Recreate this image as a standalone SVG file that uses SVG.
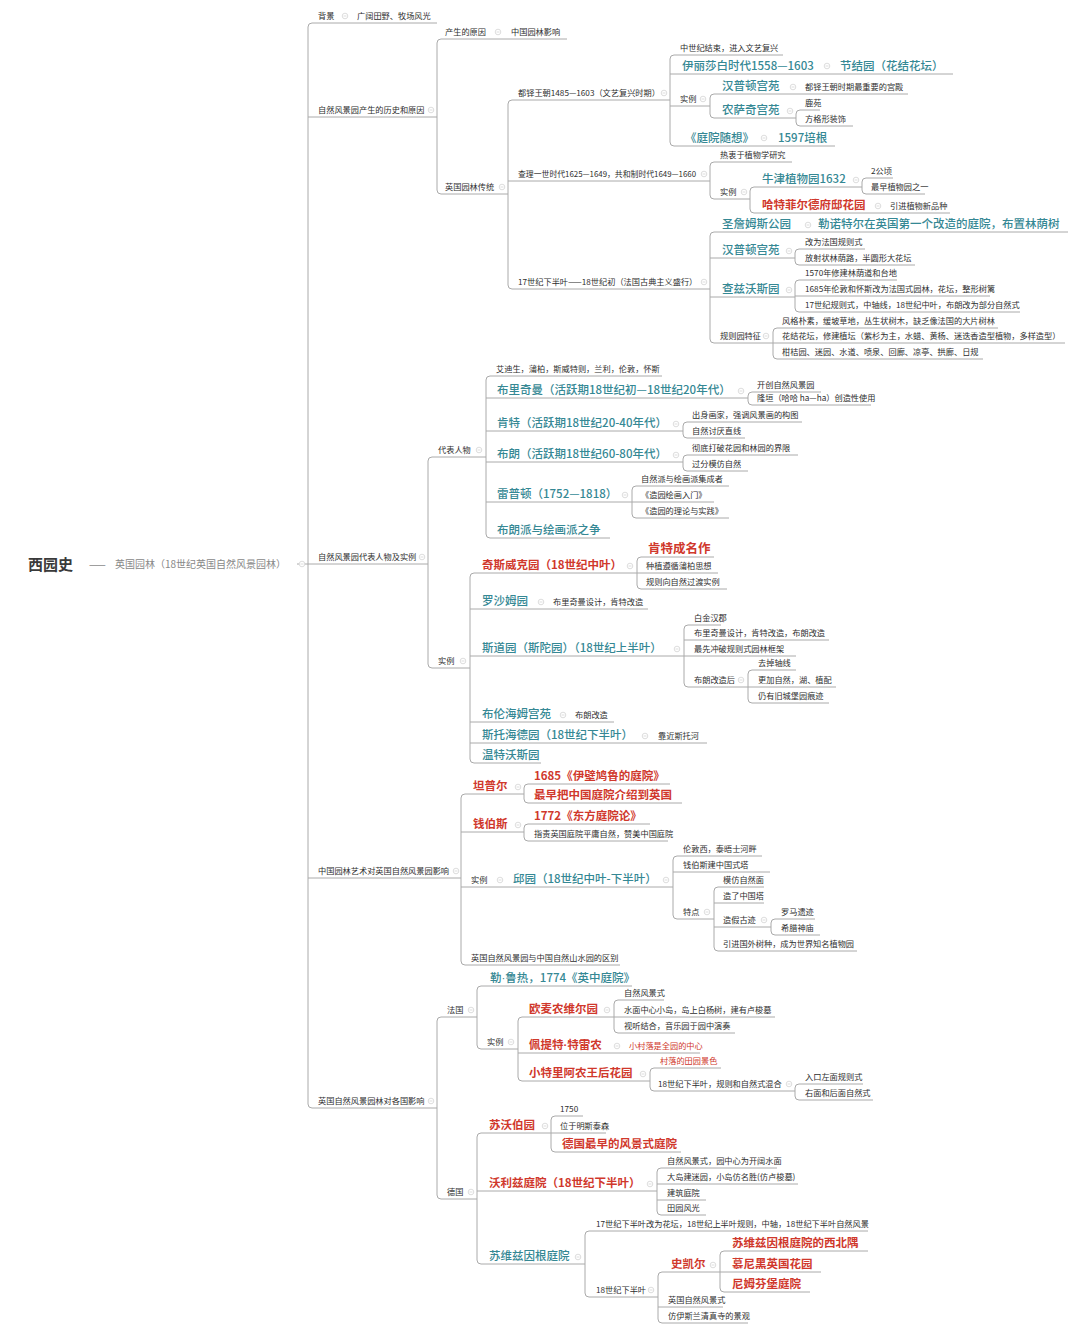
<svg xmlns="http://www.w3.org/2000/svg" xmlns:xlink="http://www.w3.org/1999/xlink" width="1080" height="1332" viewBox="0 0 1080 1332">
<style>
text{font-family:"Noto Sans CJK SC","Liberation Sans",sans-serif}
.s{font-size:8.2px;fill:#2e2e2e}
.t{font-size:11.5px;fill:#358894;font-weight:500}
.r{font-size:11.5px;fill:#d0382c;font-weight:bold}
.rs{font-size:8.2px;fill:#d0382c}
.d{font-family:"Liberation Sans",sans-serif}
.c path{fill:none;stroke:#aaa;stroke-width:1}
</style>
<defs>
<g id="ic"><circle r="2.8" fill="#fff" stroke="#d4d4d4" stroke-width="0.8"/><path d="M-1.5 0H1.5" stroke="#d4d4d4" stroke-width="0.8"/></g>
</defs>
<rect width="1080" height="1332" fill="#fff"/>
<g class="c" id="connectors">
<path d="M437 23H312Q308 23 308 27V1104Q308 1108 312 1108H437M308 117H437M308 564H428M308 878H461M297 564H308"/>
<path d="M567 39H441Q437 39 437 43V190Q437 194 441 194H508"/>
<path d="M670 100H512Q508 100 508 104V285Q508 289 512 289H710M508 181H710"/>
<path d="M783 55H674Q670 55 670 59V142Q670 146 674 146H835M670 74H953M670 106H710"/>
<path d="M908 94H714Q710 94 710 98V114Q710 118 714 118H796"/>
<path d="M820 110H800Q796 110 796 114V122Q796 126 800 126H853"/>
<path d="M792 162H714Q710 162 710 166V195Q710 199 714 199H750"/>
<path d="M862 187H754Q750 187 750 191V209Q750 213 754 213H950"/>
<path d="M893 178H866Q862 178 862 182V190Q862 194 866 194H925"/>
<path d="M1068 232H714Q710 232 710 236V339Q710 343 714 343H773M710 258H795M710 297H795"/>
<path d="M865 249H799Q795 249 795 253V261Q795 265 799 265H915"/>
<path d="M897 280H799Q795 280 795 284V308Q795 312 799 312H1020M795 296H990"/>
<path d="M998 328H777Q773 328 773 332V355Q773 359 777 359H983M773 343H1065"/>
<path d="M486 457H432Q428 457 428 461V664Q428 668 432 668H470"/>
<path d="M662 376H490Q486 376 486 380V534Q486 538 490 538H610M486 398H748M486 431H683M486 462H683M486 502H632"/>
<path d="M821 392H752Q748 392 748 396V401Q748 405 752 405H871"/>
<path d="M802 422H687Q683 422 683 426V434Q683 438 687 438H745"/>
<path d="M798 455H687Q683 455 683 459V467Q683 471 687 471H748"/>
<path d="M729 486H636Q632 486 632 490V514Q632 518 636 518H729M632 502H714"/>
<path d="M637 573H474Q470 573 470 577V759Q470 763 474 763H541M470 609H648M470 656H684M470 722H614M470 743H707"/>
<path d="M714 557H641Q637 557 637 561V585Q637 589 641 589H727M637 573H718"/>
<path d="M721 625H688Q684 625 684 629V683Q684 687 688 687H748M684 640H829M684 656H796"/>
<path d="M796 670H752Q748 670 748 674V699Q748 703 752 703H829M748 687H836"/>
<path d="M524 794H465Q461 794 461 798V961Q461 965 465 965H620M461 832H524M461 887H673"/>
<path d="M670 784H528Q524 784 524 788V799Q524 803 528 803H682"/>
<path d="M650 824H528Q524 824 524 828V837Q524 841 528 841H668"/>
<path d="M762 856H677Q673 856 673 860V915Q673 919 677 919H714M673 872H770"/>
<path d="M764 887H718Q714 887 714 891V947Q714 951 718 951H857M714 903H764M714 927H771"/>
<path d="M815 919H775Q771 919 771 923V931Q771 935 775 935H820"/>
<path d="M477 1017H441Q437 1017 437 1021V1195Q437 1199 441 1199H477"/>
<path d="M632 986H481Q477 986 477 990V1045Q477 1049 481 1049H518"/>
<path d="M614 1017H522Q518 1017 518 1021V1077Q518 1081 522 1081H650M518 1053H700"/>
<path d="M664 1000H618Q614 1000 614 1004V1029Q614 1033 618 1033H735M614 1017H775"/>
<path d="M721 1068H654Q650 1068 650 1072V1087Q650 1091 654 1091H795"/>
<path d="M863 1084H799Q795 1084 795 1088V1096Q795 1100 799 1100H873"/>
<path d="M551 1133H481Q477 1133 477 1137V1260Q477 1264 481 1264H585M477 1191H657"/>
<path d="M583 1116H555Q551 1116 551 1120V1148Q551 1152 555 1152H681M551 1133H606"/>
<path d="M777 1168H661Q657 1168 657 1172V1211Q657 1215 661 1215H706M657 1184H798M657 1200H706"/>
<path d="M868 1231H589Q585 1231 585 1235V1293Q585 1297 589 1297H658"/>
<path d="M720 1272H662Q658 1272 658 1276V1319Q658 1323 662 1323H748M658 1307H723"/>
<path d="M868 1251H724Q720 1251 720 1255V1288Q720 1292 724 1292H810M720 1272H821"/>
</g>
<g id="n0"><text x="28" y="570" style="font-size:15px;fill:#3a3a3a;font-weight:bold">西园史</text><text x="89" y="568" style="font-size:10px;fill:#888">——</text><text x="115" y="568" style="font-size:10px;fill:#888">英国园林（18世纪英国自然风景园林）</text><use href="#ic" x="302" y="564"/></g>
<g id="n1"><text class="s" x="318" y="18.5">背景</text><use href="#ic" x="345" y="16"/><text class="s" x="357" y="18.5">广阔田野、牧场风光</text></g>
<g id="n2"><text class="s" x="318" y="112.5">自然风景园产生的历史和原因</text><use href="#ic" x="431" y="110"/></g>
<g id="n3"><text class="s" x="318" y="559.5">自然风景园代表人物及实例</text><use href="#ic" x="422" y="557"/></g>
<g id="n4"><text class="s" x="318" y="873.5">中国园林艺术对英国自然风景园影响</text><use href="#ic" x="456" y="871"/></g>
<g id="n5"><text class="s" x="318" y="1103.5">英国自然风景园林对各国影响</text><use href="#ic" x="431" y="1101"/></g>
<g id="n6"><text class="s" x="445" y="34.5">产生的原因</text><use href="#ic" x="498" y="32"/><text class="s" x="511" y="34.5">中国园林影响</text></g>
<g id="n7"><text class="s" x="445" y="189.5">英国园林传统</text><use href="#ic" x="502" y="187"/></g>
<g id="n8"><text class="s" x="518" y="95.5">都铎王朝1485—1603（文艺复兴时期）</text><use href="#ic" x="664" y="93"/></g>
<g id="n9"><text class="s" x="518" y="176.5" textLength="178" lengthAdjust="spacingAndGlyphs">查理一世时代1625—1649，共和制时代1649—1660</text><use href="#ic" x="704" y="174"/></g>
<g id="n10"><text class="s" x="518" y="284.5">17世纪下半叶——18世纪初（法国古典主义盛行）</text><use href="#ic" x="704" y="282"/></g>
<g id="n11"><text class="s" x="680" y="50.5">中世纪结束，进入文艺复兴</text></g>
<g id="n12"><text class="t" x="682" y="70">伊丽莎白时代1558—1603</text><use href="#ic" x="827" y="66"/><text class="t" x="840" y="70">节结园（花结花坛）</text></g>
<g id="n13"><text class="s" x="680" y="101.5">实例</text><use href="#ic" x="703" y="99"/></g>
<g id="n14"><text class="t" x="685" y="142">《庭院随想》</text><use href="#ic" x="764" y="138"/><text class="t" x="778" y="142">1597培根</text></g>
<g id="n15"><text class="t" x="722" y="90">汉普顿宫苑</text><use href="#ic" x="793" y="87"/><text class="s" x="805" y="89.5">都铎王朝时期最重要的宫殿</text></g>
<g id="n16"><text class="t" x="722" y="114">农萨奇宫苑</text><use href="#ic" x="790" y="111"/></g>
<g id="n17"><text class="s" x="805" y="105.5">鹿苑</text></g>
<g id="n18"><text class="s" x="805" y="121.5">方格形装饰</text></g>
<g id="n19"><text class="s" x="720" y="157.5">热衷于植物学研究</text></g>
<g id="n20"><text class="s" x="720" y="194.5">实例</text><use href="#ic" x="744" y="192"/></g>
<g id="n21"><text class="t" x="762" y="183">牛津植物园1632</text><use href="#ic" x="856" y="180"/></g>
<g id="n22"><text class="r" x="762" y="209">哈特菲尔德府邸花园</text><use href="#ic" x="878" y="206"/><text class="s" x="890" y="208.5">引进植物新品种</text></g>
<g id="n23"><text class="s" x="871" y="173.5">2公顷</text></g>
<g id="n24"><text class="s" x="871" y="189.5">最早植物园之一</text></g>
<g id="n25"><text class="t" x="722" y="228">圣詹姆斯公园</text><use href="#ic" x="808" y="225"/><text class="t" x="818" y="228">勒诺特尔在英国第一个改造的庭院，布置林荫树</text></g>
<g id="n26"><text class="t" x="722" y="254">汉普顿宫苑</text><use href="#ic" x="789" y="251"/></g>
<g id="n27"><text class="t" x="722" y="293">查兹沃斯园</text><use href="#ic" x="789" y="290"/></g>
<g id="n28"><text class="s" x="720" y="338.5">规则园特征</text><use href="#ic" x="766" y="336"/></g>
<g id="n29"><text class="s" x="805" y="244.5">改为法国规则式</text></g>
<g id="n30"><text class="s" x="805" y="260.5">放射状林荫路，半圆形大花坛</text></g>
<g id="n31"><text class="s" x="805" y="275.5">1570年修建林荫道和台地</text></g>
<g id="n32"><text class="s" x="805" y="291.5">1685年伦敦和怀斯改为法国式园林，花坛，整形树篱</text></g>
<g id="n33"><text class="s" x="805" y="307.5">17世纪规则式，中轴线，18世纪中叶，布朗改为部分自然式</text></g>
<g id="n34"><text class="s" x="782" y="323.5">风格朴素，缓坡草地，丛生状树木，缺乏像法国的大片树林</text></g>
<g id="n35"><text class="s" x="782" y="338.5">花结花坛，修建植坛（紫杉为主，水蜡、黄杨、迷迭香造型植物，多样造型）</text></g>
<g id="n36"><text class="s" x="782" y="354.5">柑桔园、迷园、水道、喷泉、回廊、凉亭、拱廊、日规</text></g>
<g id="n37"><text class="s" x="438" y="452.5">代表人物</text><use href="#ic" x="479" y="450"/></g>
<g id="n38"><text class="s" x="438" y="663.5">实例</text><use href="#ic" x="463" y="661"/></g>
<g id="n39"><text class="s" x="496" y="371.5">艾迪生，蒲柏，斯威特则，兰利，伦敦，怀斯</text></g>
<g id="n40"><text class="t" x="497" y="394">布里奇曼（活跃期18世纪初—18世纪20年代）</text><use href="#ic" x="741" y="391"/></g>
<g id="n41"><text class="t" x="497" y="427">肯特（活跃期18世纪20-40年代）</text><use href="#ic" x="676" y="424"/></g>
<g id="n42"><text class="t" x="497" y="458">布朗（活跃期18世纪60-80年代）</text><use href="#ic" x="676" y="455"/></g>
<g id="n43"><text class="t" x="497" y="498">雷普顿（1752—1818）</text><use href="#ic" x="625" y="495"/></g>
<g id="n44"><text class="t" x="497" y="534">布朗派与绘画派之争</text></g>
<g id="n45"><text class="s" x="757" y="387.5">开创自然风景园</text></g>
<g id="n46"><text class="s" x="757" y="400.5">隆垣（哈哈 ha—ha）创造性使用</text></g>
<g id="n47"><text class="s" x="692" y="417.5">出身画家，强调风景画的构图</text></g>
<g id="n48"><text class="s" x="692" y="433.5">自然讨厌直线</text></g>
<g id="n49"><text class="s" x="692" y="450.5">彻底打破花园和林园的界限</text></g>
<g id="n50"><text class="s" x="692" y="466.5">过分模仿自然</text></g>
<g id="n51"><text class="s" x="641" y="481.5">自然派与绘画派集成者</text></g>
<g id="n52"><text class="s" x="641" y="497.5">《造园绘画入门》</text></g>
<g id="n53"><text class="s" x="641" y="513.5">《造园的理论与实践》</text></g>
<g id="n54"><text class="r" x="482" y="569">奇斯威克园（18世纪中叶）</text><use href="#ic" x="630" y="566"/></g>
<g id="n55"><text class="t" x="482" y="605">罗沙姆园</text><use href="#ic" x="541" y="602"/><text class="s" x="553" y="604.5">布里奇曼设计，肯特改造</text></g>
<g id="n56"><text class="t" x="482" y="652">斯道园（斯陀园）（18世纪上半叶）</text><use href="#ic" x="677" y="649"/></g>
<g id="n57"><text class="t" x="482" y="718">布伦海姆宫苑</text><use href="#ic" x="563" y="715"/><text class="s" x="575" y="717.5">布朗改造</text></g>
<g id="n58"><text class="t" x="482" y="739">斯托海德园（18世纪下半叶）</text><use href="#ic" x="645" y="736"/><text class="s" x="658" y="738.5">靠近斯托河</text></g>
<g id="n59"><text class="t" x="482" y="759">温特沃斯园</text></g>
<g id="n60"><text class="r" x="648" y="553" style="font-size:12.5px">肯特成名作</text></g>
<g id="n61"><text class="s" x="646" y="568.5">种植遵循蒲柏思想</text></g>
<g id="n62"><text class="s" x="646" y="584.5">规则向自然过渡实例</text></g>
<g id="n63"><text class="s" x="694" y="620.5">白金汉郡</text></g>
<g id="n64"><text class="s" x="694" y="635.5">布里奇曼设计，肯特改造，布朗改造</text></g>
<g id="n65"><text class="s" x="694" y="651.5">最先冲破规则式园林框架</text></g>
<g id="n66"><text class="s" x="694" y="682.5">布朗改造后</text><use href="#ic" x="741" y="680"/></g>
<g id="n67"><text class="s" x="758" y="665.5">去掉轴线</text></g>
<g id="n68"><text class="s" x="758" y="682.5">更加自然，湖、植配</text></g>
<g id="n69"><text class="s" x="758" y="698.5">仍有旧城堡园痕迹</text></g>
<g id="n70"><text class="r" x="473" y="790">坦普尔</text><use href="#ic" x="518" y="787"/></g>
<g id="n71"><text class="r" x="473" y="828">钱伯斯</text><use href="#ic" x="518" y="825"/></g>
<g id="n72"><text class="s" x="471" y="882.5">实例</text><use href="#ic" x="500" y="880"/><text class="t" x="513" y="883">邱园（18世纪中叶-下半叶）</text><use href="#ic" x="666" y="880"/></g>
<g id="n73"><text class="s" x="471" y="960.5">英国自然风景园与中国自然山水园的区别</text></g>
<g id="n74"><text class="r" x="534" y="780">1685《伊壁鸠鲁的庭院》</text></g>
<g id="n75"><text class="r" x="534" y="799">最早把中国庭院介绍到英国</text></g>
<g id="n76"><text class="r" x="534" y="820">1772《东方庭院论》</text></g>
<g id="n77"><text class="s" x="534" y="836.5">指责英国庭院平庸自然，赞美中国庭院</text></g>
<g id="n78"><text class="s" x="683" y="851.5">伦敦西，泰晤士河畔</text></g>
<g id="n79"><text class="s" x="683" y="867.5">钱伯斯建中国式塔</text></g>
<g id="n80"><text class="s" x="683" y="914.5">特点</text><use href="#ic" x="707" y="912"/></g>
<g id="n81"><text class="s" x="723" y="882.5">模仿自然面</text></g>
<g id="n82"><text class="s" x="723" y="898.5">造了中国塔</text></g>
<g id="n83"><text class="s" x="723" y="922.5">造假古迹</text><use href="#ic" x="764" y="920"/></g>
<g id="n84"><text class="s" x="723" y="946.5">引进国外树种，成为世界知名植物园</text></g>
<g id="n85"><text class="s" x="781" y="914.5">罗马遗迹</text></g>
<g id="n86"><text class="s" x="781" y="930.5">希腊神庙</text></g>
<g id="n87"><text class="s" x="447" y="1012.5">法国</text><use href="#ic" x="471" y="1010"/></g>
<g id="n88"><text class="s" x="447" y="1194.5">德国</text><use href="#ic" x="471" y="1192"/></g>
<g id="n89"><text class="t" x="490" y="982">勒<tspan class="d">·</tspan>鲁热，1774《英中庭院》</text></g>
<g id="n90"><text class="s" x="487" y="1044.5">实例</text><use href="#ic" x="511" y="1042"/></g>
<g id="n91"><text class="r" x="529" y="1013">欧麦农维尔园</text><use href="#ic" x="607" y="1010"/></g>
<g id="n92"><text class="r" x="529" y="1049">佩提特<tspan class="d">·</tspan>特雷农</text><use href="#ic" x="617" y="1046"/><text class="rs" x="629" y="1048.5">小村落是全园的中心</text></g>
<g id="n93"><text class="r" x="529" y="1077">小特里阿农王后花园</text><use href="#ic" x="643" y="1074"/></g>
<g id="n94"><text class="s" x="624" y="995.5">自然风景式</text></g>
<g id="n95"><text class="s" x="624" y="1012.5">水面中心小岛，岛上白杨树，建有卢梭墓</text></g>
<g id="n96"><text class="s" x="624" y="1028.5">视听结合，音乐园于园中演奏</text></g>
<g id="n97"><text class="rs" x="660" y="1063.5">村落的田园景色</text></g>
<g id="n98"><text class="s" x="658" y="1086.5">18世纪下半叶，规则和自然式混合</text><use href="#ic" x="789" y="1084"/></g>
<g id="n99"><text class="s" x="805" y="1079.5">入口左面规则式</text></g>
<g id="n100"><text class="s" x="805" y="1095.5">右面和后面自然式</text></g>
<g id="n101"><text class="r" x="489" y="1129">苏沃伯园</text><use href="#ic" x="545" y="1126"/></g>
<g id="n102"><text class="r" x="489" y="1187">沃利兹庭院（18世纪下半叶）</text><use href="#ic" x="650" y="1184"/></g>
<g id="n103"><text class="t" x="489" y="1260">苏维兹因根庭院</text><use href="#ic" x="578" y="1257"/></g>
<g id="n104"><text class="s" x="560" y="1111.5">1750</text></g>
<g id="n105"><text class="s" x="560" y="1128.5">位于明斯泰森</text></g>
<g id="n106"><text class="r" x="562" y="1148">德国最早的风景式庭院</text></g>
<g id="n107"><text class="s" x="667" y="1163.5">自然风景式，园中心为开阔水面</text></g>
<g id="n108"><text class="s" x="667" y="1179.5">大岛建迷园，小岛仿名胜(仿卢梭墓)</text></g>
<g id="n109"><text class="s" x="667" y="1195.5">建筑庭院</text></g>
<g id="n110"><text class="s" x="667" y="1210.5">田园风光</text></g>
<g id="n111"><text class="s" x="596" y="1226.5">17世纪下半叶改为花坛，18世纪上半叶规则，中轴，18世纪下半叶自然风景</text></g>
<g id="n112"><text class="s" x="596" y="1292.5">18世纪下半叶</text><use href="#ic" x="651" y="1290"/></g>
<g id="n113"><text class="r" x="671" y="1268">史凯尔</text><use href="#ic" x="713" y="1265"/></g>
<g id="n114"><text class="s" x="668" y="1302.5">英国自然风景式</text></g>
<g id="n115"><text class="s" x="668" y="1318.5">仿伊斯兰清真寺的景观</text></g>
<g id="n116"><text class="r" x="732" y="1247">苏维兹因根庭院的西北隅</text></g>
<g id="n117"><text class="r" x="732" y="1268">慕尼黑英国花园</text></g>
<g id="n118"><text class="r" x="732" y="1288">尼姆芬堡庭院</text></g>
</svg>
